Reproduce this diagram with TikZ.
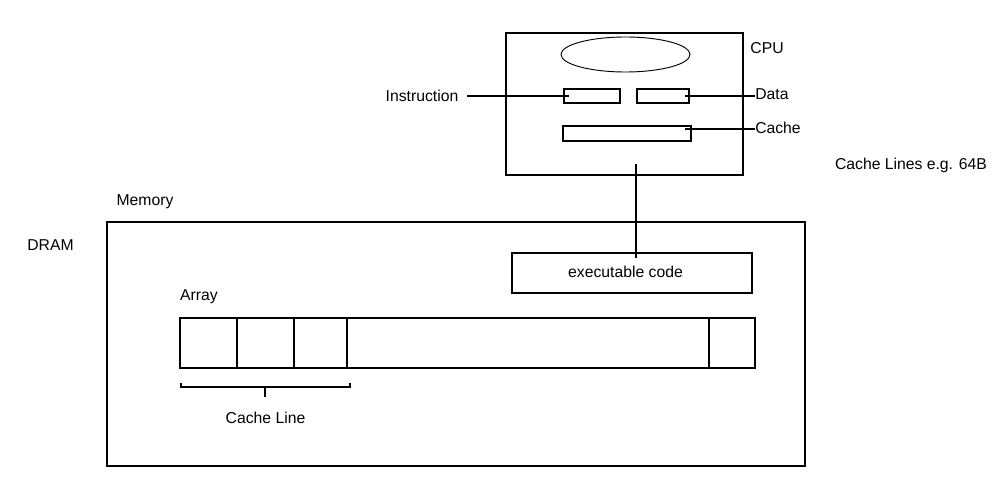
\documentclass[tikz,border=0pt]{standalone}
\usepackage{fontspec}
\setmainfont{Liberation Sans}
\usepackage{tikz}
\usetikzlibrary{shapes.geometric}

\tikzset{
  box/.style={draw, line width=1.5pt, inner sep=0pt},
  lab/.style={inner sep=0pt, font=\fontsize{11.8}{14}\selectfont},
  wire/.style={-, line width=1.5pt},
}

\begin{document}
\begin{tikzpicture}[x=0.75pt, y=-0.75pt]
\useasboundingbox (0,0) rectangle (997,484);
% cpu
\node[box, minimum width=177.75pt, minimum height=106.5pt] (cpu) at (624.5,104) {};
\node[draw, ellipse, line width=0.7pt, inner sep=0pt, minimum width=96.75pt, minimum height=26.25pt] (alu) at (625.5,54.5) {};
\node[box, minimum width=42pt, minimum height=10.5pt] (instr) at (592,96) {};
\node[box, minimum width=39pt, minimum height=10.5pt] (data) at (663,96) {};
\node[box, minimum width=96pt, minimum height=11.25pt] (cache) at (627,133.5) {};
\node[lab] (cpulab) at (767,48) {CPU};
\node[lab, inner xsep=6.5pt] (instrlab) at (422,96) {Instruction};
\node[lab, anchor=west] (datalab) at (755,94) {Data};
\node[lab, anchor=west] (cachelab) at (755,128) {Cache};
\node[lab] (lineslab) at (911,165) {Cache Lines e.g. 64B};
\coordinate (instrend) at (569,96);
\coordinate (dataend) at (685,96);
\coordinate (cacheend) at (685,129);
\draw[wire] (instrlab.east) -- (instrend);
\draw[wire] (dataend) -- (datalab.west |- dataend);
\draw[wire] (cacheend) -- (cachelab.west |- cacheend);
% memory
\node[box, minimum width=523.5pt, minimum height=183pt] (mem) at (456,344) {};
\node[lab] (memlab) at (145,202) {Memory};
\node[lab] (dramlab) at (50.5,245) {DRAM};
\node[box, minimum width=180pt, minimum height=30pt] (exec) at (632,273) {};
\node[lab] (execlab) at (625.5,272) {executable code};
\coordinate (bustop) at (636,164);
\coordinate (busend) at (636,258);
\draw[wire] (bustop) -- (busend);
% array
\node[lab] (arraylab) at (199,297) {Array};
\node[box, minimum width=42.75pt, minimum height=37.5pt] (c1) at (208.5,343) {};
\node[box, minimum width=42.75pt, minimum height=37.5pt] (c2) at (265.5,343) {};
\node[box, minimum width=39.75pt, minimum height=37.5pt] (c3) at (320.5,343) {};
\node[box, minimum width=271.5pt, minimum height=37.5pt] (c4) at (528,343) {};
\node[box, minimum width=34.5pt, minimum height=37.5pt] (c5) at (732,343) {};
\coordinate (b1) at (181,383);
\coordinate (b2) at (350,383);
\coordinate (bmid) at (265,387);
\draw[wire] (b1) -- (181,387) -- (350,387) -- (b2);
\draw[wire] (bmid) -- (265,397);
\node[lab] (linelab) at (265.5,418) {Cache Line};
\end{tikzpicture}
\end{document}
